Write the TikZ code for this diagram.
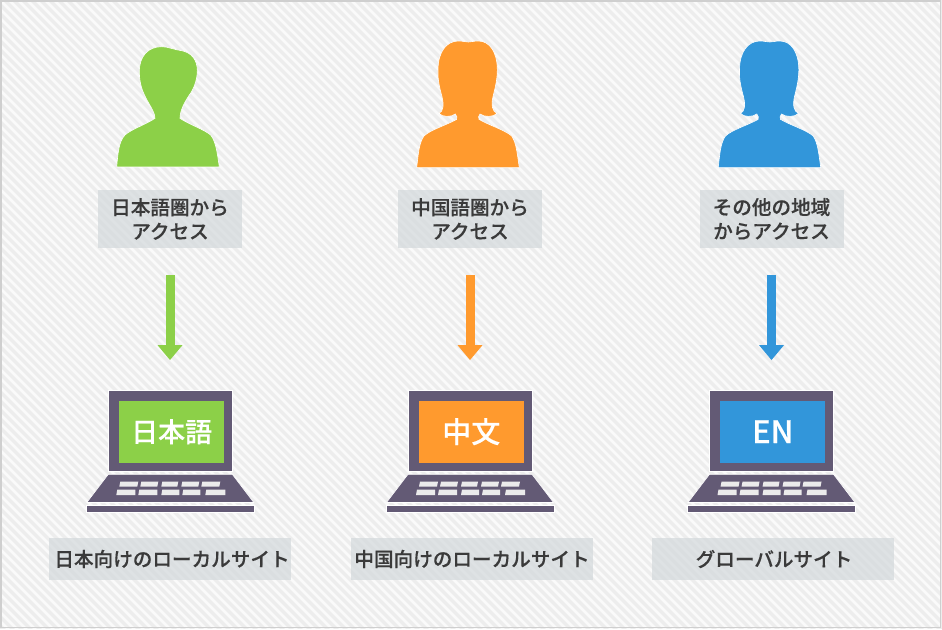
\documentclass[tikz,border=0pt]{standalone}
\usepackage{fontspec}
\setmainfont{Noto Sans CJK JP Medium}[FakeBold=0.35]
\usetikzlibrary{arrows.meta}
\definecolor{cgreen}{HTML}{8CD048}
\definecolor{corange}{HTML}{FF9A2E}
\definecolor{cblue}{HTML}{3296DA}
\definecolor{cpurple}{HTML}{635A75}
\definecolor{ctext}{HTML}{3A3A3A}
\definecolor{cband}{HTML}{D3D9DB}
\tikzset{
  caption/.style={fill=cband,fill opacity=.7,text opacity=1,text=ctext,inner sep=0pt,align=center,
    font=\fontsize{19.6}{24}\selectfont},
  twoline/.style={caption,minimum width=144pt,minimum height=58pt},
  oneline/.style={caption,minimum width=242pt,minimum height=42pt},
  flow/.style={-{Triangle[width=24pt,length=15pt]},line width=9pt,shorten <=27pt,shorten >=30pt},
  screenframe/.style={fill=cpurple,draw=white,line width=.8pt,minimum width=124pt,minimum height=81pt,inner sep=0pt},
  screenpanel/.style={minimum width=105pt,minimum height=62pt,inner sep=0pt,text=white,
    font=\fontsize{27}{30}\selectfont},
  keycap/.style={fill=white!92!black},
  silhouette/.style={draw=white,line width=.6pt},
}
\newcommand{\manshape}[2]{%
  \begin{scope}[shift={(#1,30)},x=.3333pt,y=-.3333pt]
    \path[silhouette,fill=#2] (80,411) .. controls (84,370) and (86,335) .. (105,315)
      .. controls (125,297) and (165,285) .. (195,265)
      .. controls (195,250) and (185,235) .. (172,212)
      .. controls (160,190) and (148,165) .. (148,125)
      .. controls (148,78) and (175,50) .. (215,50)
      .. controls (235,50) and (255,60) .. (275,62)
      .. controls (305,68) and (322,90) .. (322,122)
      .. controls (322,150) and (310,180) .. (298,195)
      .. controls (285,215) and (270,240) .. (270,265)
      .. controls (300,285) and (340,297) .. (362,315)
      .. controls (378,335) and (382,370) .. (388,411) -- cycle;
  \end{scope}}
\newcommand{\womanshape}[2]{%
  \begin{scope}[shift={(#1,30)},x=.3333pt,y=-.3333pt]
    \path[silhouette,fill=#2] (50,413) .. controls (55,375) and (56,340) .. (72,318)
      .. controls (90,300) and (140,285) .. (170,268)
      .. controls (172,262) and (170,258) .. (166,252)
      .. controls (155,262) and (125,262) .. (117,250)
      .. controls (130,245) and (132,225) .. (126,200)
      .. controls (118,170) and (113,150) .. (114,120)
      .. controls (114,65) and (140,33) .. (175,33)
      .. controls (190,33) and (195,36) .. (205,36)
      .. controls (215,36) and (220,33) .. (235,33)
      .. controls (268,33) and (292,65) .. (292,120)
      .. controls (292,150) and (285,175) .. (279,200)
      .. controls (273,225) and (277,245) .. (291,250)
      .. controls (282,262) and (252,262) .. (240,252)
      .. controls (236,258) and (234,262) .. (237,268)
      .. controls (265,285) and (315,300) .. (335,318)
      .. controls (350,340) and (352,375) .. (358,413) -- cycle;
  \end{scope}}
\newcommand{\laptopicon}[4]{%
  \begin{scope}[xshift=#2pt]
    \node[screenframe] (#1frame) at (0,431) {};
    \node[screenpanel,fill=#3] (#1panel) at (1.3,431.7) {#4};
    \path[fill=cpurple,draw=white,line width=.6pt] (-62,474.3) -- (62,474.3) -- (83.5,502.5) -- (-83.5,502.5) -- cycle;
    \path[fill=cpurple,draw=white,line width=.6pt] (-84,505) rectangle (84,512);
    \foreach \a/\b in {-50/-32,-29/-12,-8/8,12/29,32/50}{
      \path[keycap] (\a,481.7) -- (\b,481.7) -- (\b-1,486.7) -- (\a-1,486.7) -- cycle;
    }
    \foreach \a/\b in {-54/-35,-32/-13,-9/9,12/30,35/55}{
      \path[keycap] (\a+1,489.5) -- (\b,489.5) -- (\b,495) -- (\a,495) -- cycle;
    }
  \end{scope}}
\begin{document}
\begin{tikzpicture}[x=1pt,y=-1pt]
  \useasboundingbox (0,0) rectangle (942,629);
  % background
  \fill[white!93!black] (0,0) rectangle (942,629);
  \begin{scope}
    \clip (1,1) rectangle (941,628);
    \foreach \k in {-80,...,110}{
      \draw[white!98!black,line width=2.8pt] (\k*9,0) -- (\k*9+630,630);
    }
  \end{scope}
  \draw[white!81!black,line width=1.6pt] (.8,.8) rectangle (940.6,627.4);
  % people
  \manshape{90}{cgreen}
  \womanshape{400}{corange}
  \womanshape{701.5}{cblue}
  % captions
  \node[twoline] (a1) at (170,219) {日本語圏から\\アクセス};
  \node[twoline] (b1) at (470,219) {中国語圏から\\アクセス};
  \node[twoline] (c1) at (771.5,219) {その他の地域\\からアクセス};
  % laptops
  \laptopicon{a}{170.3}{cgreen}{日本語}
  \laptopicon{b}{470}{corange}{\fontsize{29}{30}\selectfont 中文}
  \laptopicon{c}{771.5}{cblue}{\fontsize{31}{30}\selectfont EN}
  \node[oneline] (a2) at (170,559) {\hspace{4pt}日本向けのローカルサイト};
  \node[oneline] (b2) at (471.5,559) {\hspace{1pt}中国向けのローカルサイト};
  \node[oneline] (c2) at (772.5,559) {\hspace{3pt}グローバルサイト};
  % arrows
  \draw[flow,cgreen] (a1.south) -- (a1.south |- aframe.north);
  \draw[flow,corange] (b1.south) -- (b1.south |- bframe.north);
  \draw[flow,cblue] (c1.south) -- (c1.south |- cframe.north);
\end{tikzpicture}
\end{document}
